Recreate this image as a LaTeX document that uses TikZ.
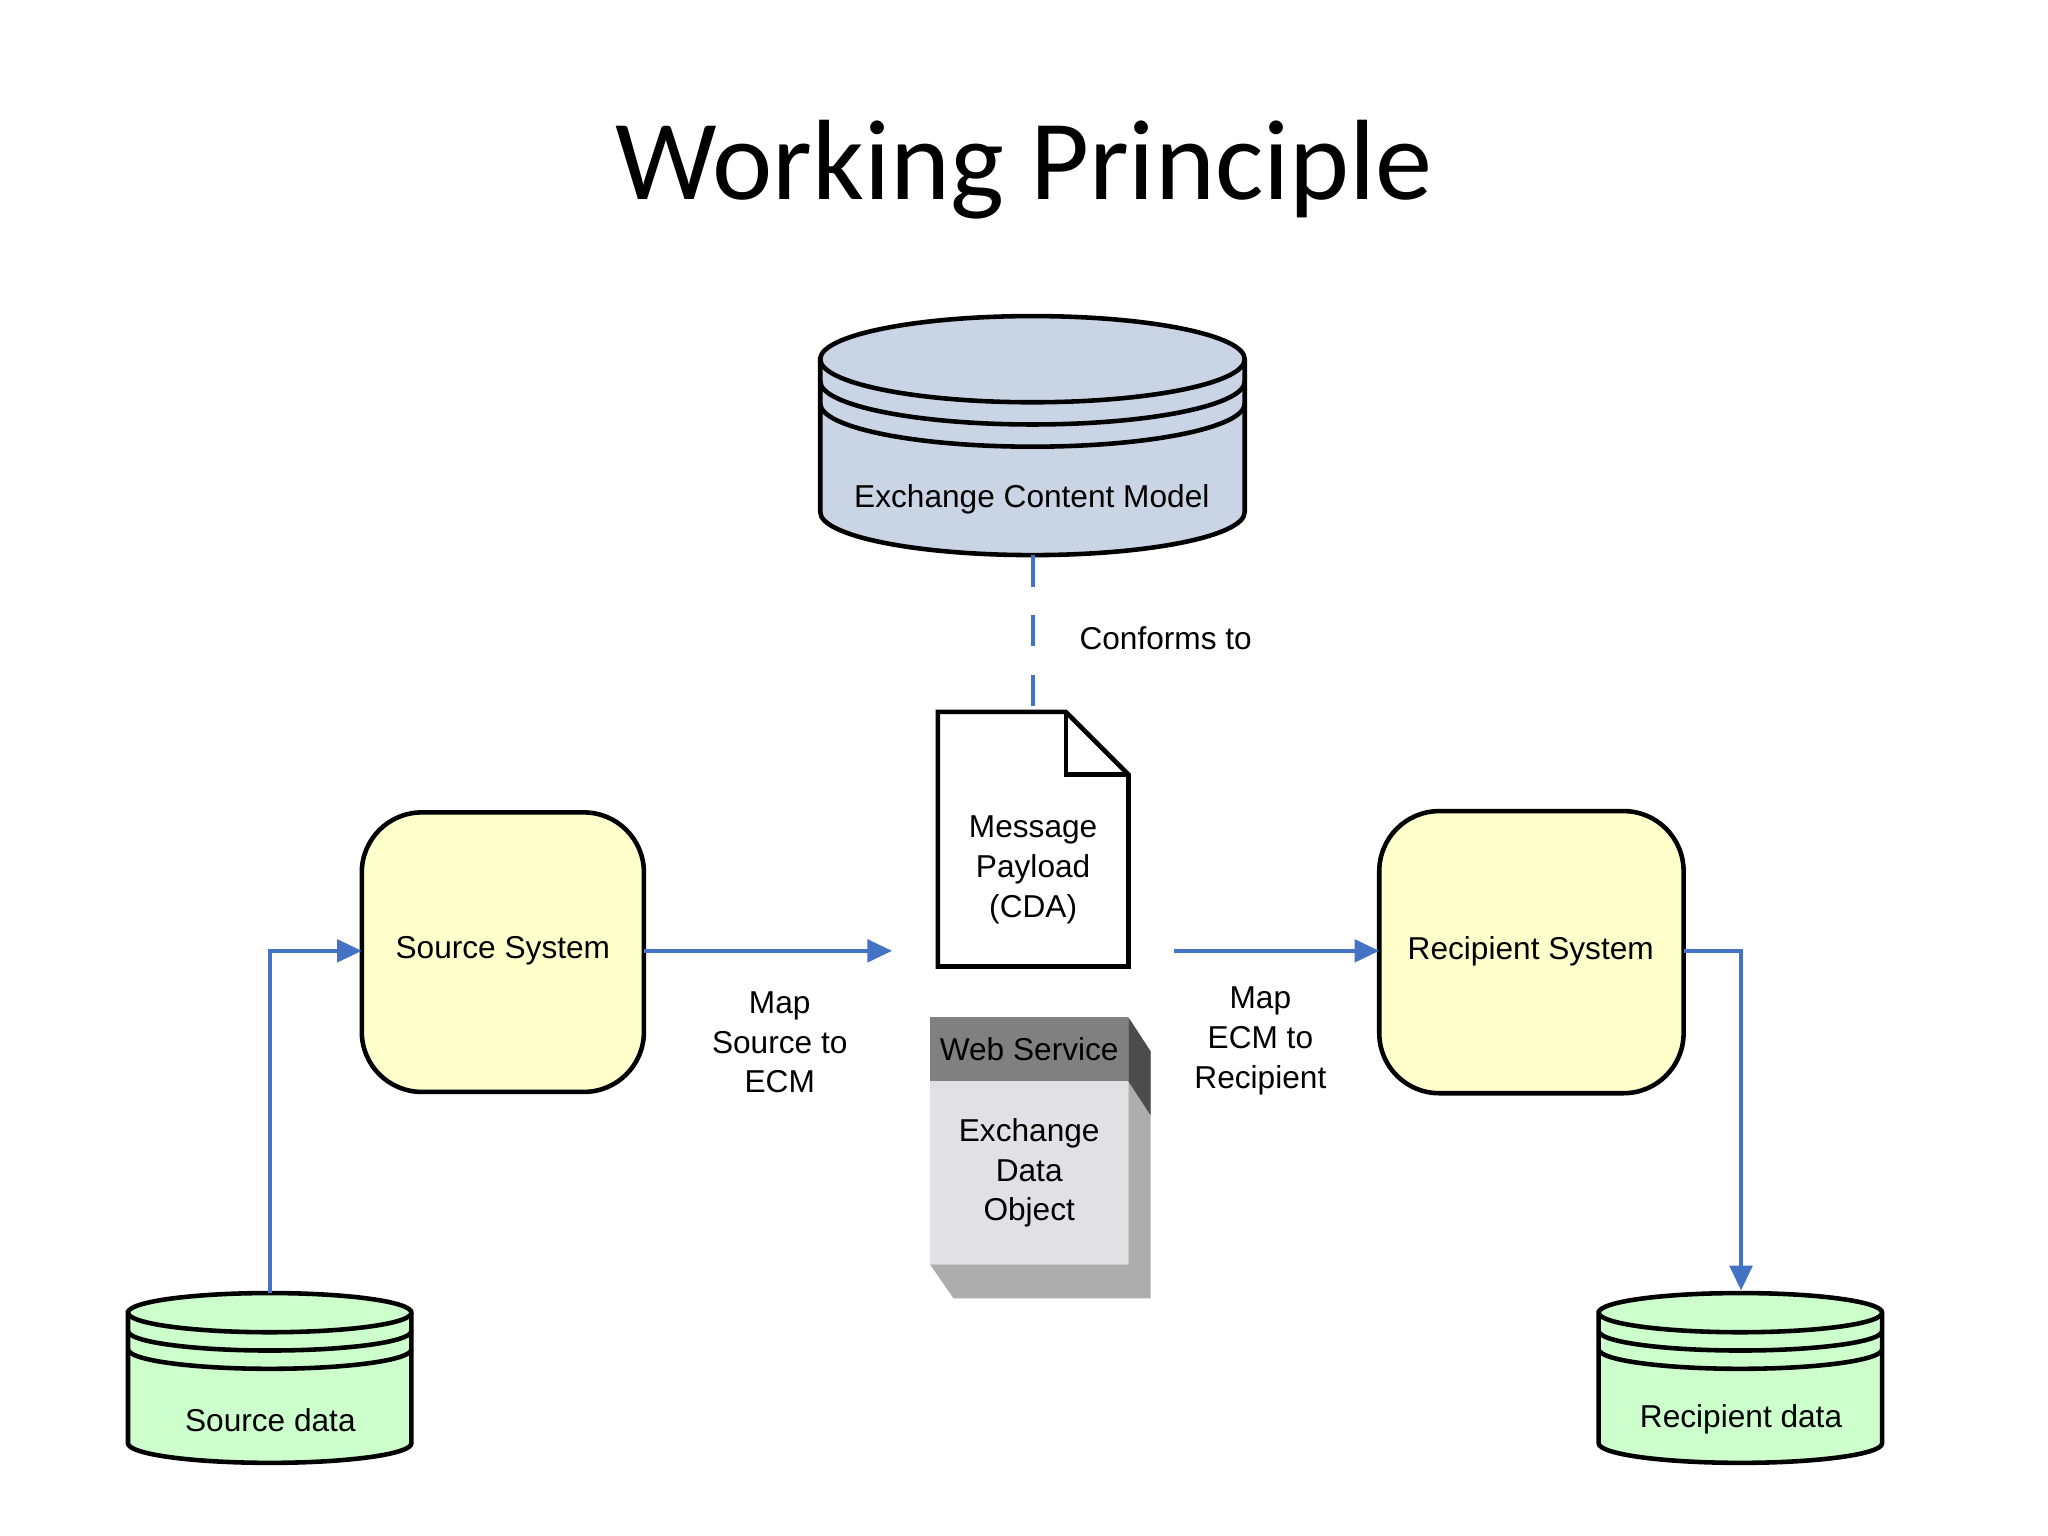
\documentclass[tikz,border=0pt]{standalone}
\usepackage{fontspec}
\setmainfont{Liberation Sans}
\newfontfamily\titlefont{Carlito}
\usetikzlibrary{arrows.meta}
\definecolor{lnk}{HTML}{4472C4}
\definecolor{ecm}{HTML}{C9D5E5}
\definecolor{sys}{HTML}{FFFFCC}
\definecolor{dat}{HTML}{CCFFCC}
\newcommand{\mycyl}[7]{% x1 x2 cytop ry cybot fill bandstep
  \pgfmathsetmacro{\cx}{(#1+#2)/2}\pgfmathsetmacro{\rx}{(#2-#1)/2}
  \filldraw[fill=#6,outl] (#1,#3) -- (#1,#5) arc[start angle=180,end angle=360,x radius=\rx,y radius=-#4] -- (#2,#3) arc[start angle=0,end angle=180,x radius=\rx,y radius=-#4] -- cycle;
  \draw[outl] (#1,#3) arc[start angle=180,end angle=360,x radius=\rx,y radius=-#4];
  \draw[outl] (#1,#3+#7) arc[start angle=180,end angle=360,x radius=\rx,y radius=-#4];
  \draw[outl] (#1,#3+2*#7) arc[start angle=180,end angle=360,x radius=\rx,y radius=-#4];
}
\begin{document}
\begin{tikzpicture}[x=0.01306cm,y=-0.01306cm,
  outl/.style={draw=black,line width=1.3pt},
  lab/.style={font=\fontsize{9}{11.3}\selectfont,align=center,inner sep=0pt},
  conn/.style={draw=lnk,line width=1.1pt},
  arr/.style={conn,-{Triangle[width=5mm,length=5.5mm,scale=0.45]}}]
\useasboundingbox (0,0) rectangle (1568,1176);
\node[font=\titlefont\fontsize{32.5}{38}\selectfont] (title) at (784,130) {Working Principle};
% ECM cylinder
\mycyl{628}{953}{275}{33}{392}{ecm}{17}
\node[lab] (ecm) at (790,382) {Exchange Content Model};
\coordinate (ecmb) at (791,425);
% document
\filldraw[outl,fill=white] (718,545) -- (816,545) -- (864,593) -- (864,740) -- (718,740) -- cycle;
\draw[outl] (816,545) -- (816,593) -- (864,593);
\node[lab,text width=3cm] (doc) at (791,666) {Message\\Payload\\(CDA)};
\coordinate (doct) at (791,545);
\draw[conn,dash pattern=on 9pt off 8pt] (ecmb) -- (doct);
\node[lab,anchor=west] (conf) at (826,489) {Conforms to};
% systems
\filldraw[outl,fill=sys,rounded corners=0.6cm] (277,622) rectangle (493,836);
\node[lab] (src) at (385,728) {Source System};
\filldraw[outl,fill=sys,rounded corners=0.6cm] (1056,621) rectangle (1289,837);
\node[lab] (rec) at (1172,728) {Recipient System};
\coordinate (srcR) at (493,728); \coordinate (srcL) at (277,728);
\coordinate (recL) at (1056,728); \coordinate (recR) at (1289,728);
\coordinate (docL) at (683,728); \coordinate (docR) at (899,728);
\draw[arr] (srcR) -- (docL);
\draw[arr] (docR) -- (recL);
\node[lab] (m1) at (597,798) {Map\\Source to\\ECM};
\node[lab] (m2) at (965,797) {Map\\ECM to\\Recipient};
% web service box
\fill[black!32] (712,968) -- (730,994) -- (881,994) -- (881,805) -- (864,779) -- (864,968) -- cycle;
\fill[black!70] (864,779) -- (881,805) -- (881,854) -- (864,828) -- cycle;
\fill[black!50] (712,779) rectangle (864,828);
\fill[black!10!blue!2!white!90!black] (712,828) rectangle (864,968);
\node[lab] (ws) at (788,803) {Web Service};
\node[lab] (edo) at (788,898) {Exchange\\Data\\Object};
% data cylinders
\mycyl{98}{315}{1005}{15}{1105}{dat}{14}
\node[lab] (sd) at (207,1087) {Source data};
\mycyl{1224}{1441}{1005}{15}{1105}{dat}{14}
\node[lab] (rd) at (1333,1087) {Recipient data};
\coordinate (sdt) at (207,990); \coordinate (rdt) at (1333,988);
\draw[arr] (sdt) |- (srcL);
\draw[arr] (recR) -| (rdt);
\end{tikzpicture}
\end{document}
